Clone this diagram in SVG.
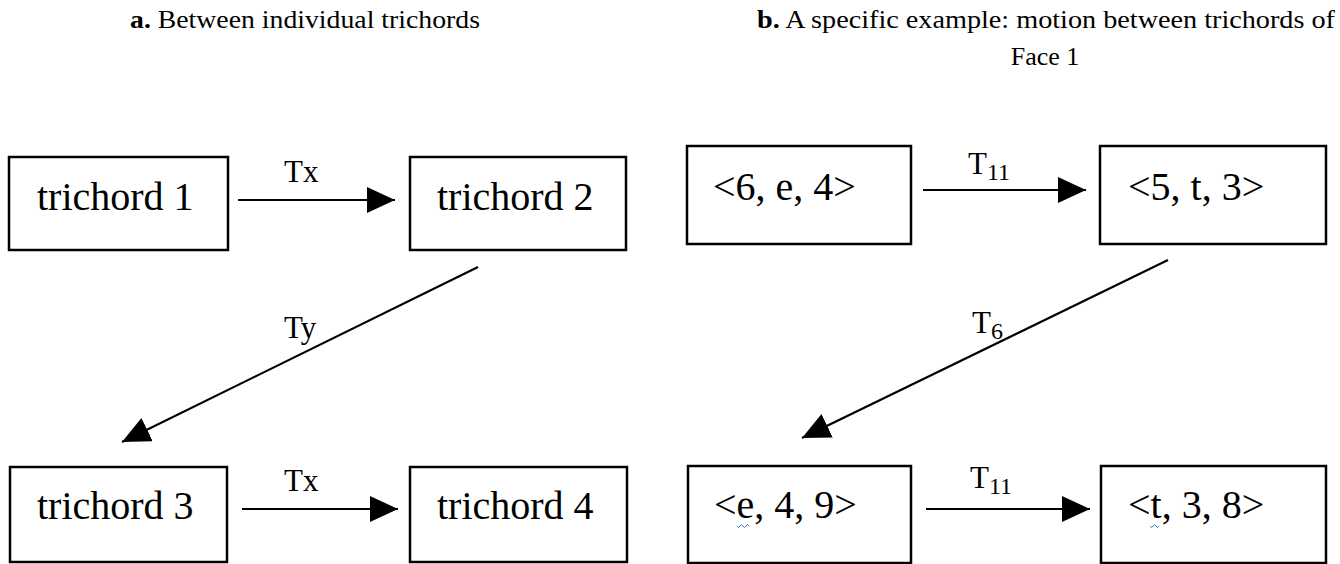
<svg xmlns="http://www.w3.org/2000/svg" width="1340" height="564" viewBox="0 0 1340 564">
<defs>
<marker id="ah" markerUnits="userSpaceOnUse" markerWidth="30" markerHeight="28" refX="28" refY="13" orient="auto">
<path d="M0,0 L28,13 L0,26 z" fill="#000"/>
</marker>
<style>
.box{fill:#fff;stroke:#000;stroke-width:2.5}
.t{font-family:"Liberation Serif","Times New Roman",serif;fill:#000}
.lbl{font-size:40px}
.el{font-size:31px}
.ttl{font-size:26px}
.con line{stroke:#000;stroke-width:2.2;marker-end:url(#ah)}
.sq{fill:none;stroke:#3b6fd0;stroke-width:1}
</style>
</defs>
<rect width="1340" height="564" fill="#fff"/>
<g id="titles">
<text class="t ttl" x="130" y="28" textLength="350" lengthAdjust="spacingAndGlyphs"><tspan font-weight="bold">a.</tspan> Between individual trichords</text>
<text class="t ttl" x="757" y="28" textLength="578" lengthAdjust="spacingAndGlyphs"><tspan font-weight="bold">b.</tspan> A specific example: motion between trichords of</text>
<text class="t ttl" x="1045" y="65" text-anchor="middle">Face 1</text>
</g>
<g id="a1"><rect class="box" x="9" y="157" width="219" height="93"/><text class="t lbl" x="37" y="210">trichord 1</text></g>
<g id="a2"><rect class="box" x="410" y="157" width="216" height="93"/><text class="t lbl" x="437" y="210">trichord 2</text></g>
<g id="a3"><rect class="box" x="10" y="467" width="217" height="95"/><text class="t lbl" x="37" y="519">trichord 3</text></g>
<g id="a4"><rect class="box" x="410" y="467" width="217" height="95"/><text class="t lbl" x="437" y="519">trichord 4</text></g>
<g id="b1"><rect class="box" x="687" y="146" width="224" height="98"/><text class="t lbl" x="713" y="200" font-size="42">&lt;6, e, 4&gt;</text></g>
<g id="b2"><rect class="box" x="1100" y="146" width="226" height="98"/><text class="t lbl" x="1128" y="200" font-size="42">&lt;5, t, 3&gt;</text></g>
<g id="b3"><rect class="box" x="688" y="466" width="223" height="97"/><text class="t lbl" x="714" y="518" font-size="42">&lt;e, 4, 9&gt;</text><path class="sq" d="M737,526 q1.5,3 3,0 t3,0 t3,0 t3,0"/></g>
<g id="b4"><rect class="box" x="1101" y="466" width="225" height="97"/><text class="t lbl" x="1128" y="518" font-size="42">&lt;t, 3, 8&gt;</text><path class="sq" d="M1150,526 q1.5,3 3,0 t3,0 t3,0"/></g>
<g class="con" id="connectors">
<line x1="238" y1="200" x2="395" y2="200"/>
<line x1="242" y1="509" x2="398" y2="509"/>
<line x1="478" y1="267" x2="122" y2="442"/>
<line x1="923" y1="190" x2="1086" y2="190"/>
<line x1="926" y1="509" x2="1090" y2="509"/>
<line x1="1168" y1="260" x2="802" y2="438"/>
<text class="t el" x="284" y="182">Tx</text>
<text class="t el" x="284" y="491">Tx</text>
<text class="t el" x="284" y="338">Ty</text>
<text class="t el" x="968" y="174" font-size="34">T<tspan font-size="24" dy="6">11</tspan></text>
<text class="t el" x="970" y="488" font-size="34">T<tspan font-size="24" dy="6">11</tspan></text>
<text class="t el" x="972" y="333" font-size="34">T<tspan font-size="24" dy="6">6</tspan></text>
</g>
</svg>
